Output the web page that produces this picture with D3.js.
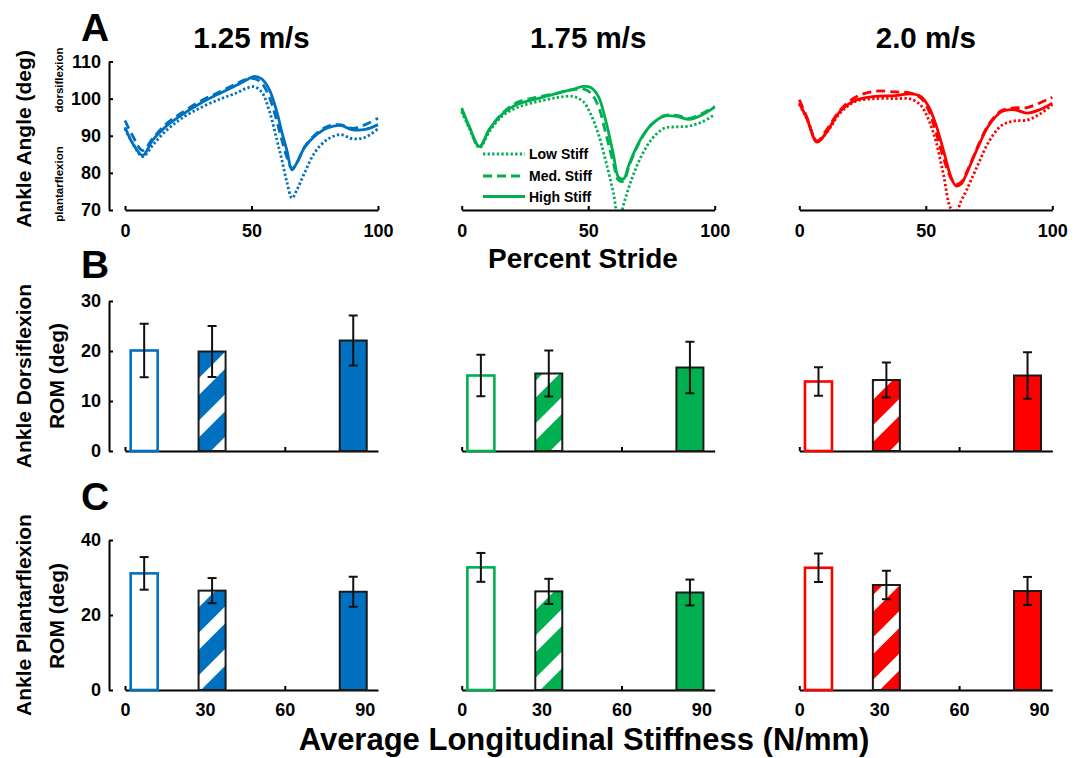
<!DOCTYPE html>
<html lang="en">
<head>
<meta charset="UTF-8">
<title>Ankle angle and ROM</title>
<script src="https://d3js.org/d3.v7.min.js"></script>
<style>
  body { margin: 0; background: #fff; }
  svg text { font-family: Arial, "Liberation Sans", sans-serif; font-weight: bold; fill: #000; }
  .domain { stroke: #000; stroke-width: 2; }
  .tick line { stroke: #000; stroke-width: 2; }
</style>
</head>
<body>
<div id="chart"></div>
<script>
// ---- data ----
var speeds = ["1.25 m/s", "1.75 m/s", "2.0 m/s"];
var stiffNames = ["Low Stiff", "Med. Stiff", "High Stiff"];

// percent stride sample points (shared by all curves)
var stridePct = [0, 3, 7, 11, 16, 22, 30, 38, 44, 48, 51, 54, 57, 60, 62, 64, 66, 68, 71, 75, 80, 85, 90, 95, 100];

// ankle angle (deg), 1.25 m/s
var low125  = [91.9, 88.0, 84.4, 87.5, 91.2, 94.5, 97.6, 100.0, 101.5, 102.8, 103.2, 101.8, 96.8, 89.0, 83.5, 77.5, 73.2, 75.5, 80.0, 85.5, 89.0, 90.3, 89.2, 89.6, 91.9];
var med125  = [94.1, 90.0, 86.0, 89.3, 93.0, 96.0, 99.4, 102.0, 104.0, 105.2, 105.4, 104.2, 100.5, 94.0, 88.8, 84.2, 81.2, 82.8, 87.0, 90.2, 92.5, 93.0, 92.0, 93.0, 94.7];
var high125 = [92.3, 88.0, 84.7, 88.9, 92.4, 95.4, 98.8, 101.6, 103.6, 105.0, 106.0, 105.3, 102.5, 96.5, 91.0, 86.0, 80.8, 82.8, 86.9, 89.9, 92.1, 92.8, 91.6, 91.7, 93.0];
// 1.75 m/s
var low175  = [96.5, 92.0, 86.8, 91.2, 95.3, 97.6, 99.2, 100.3, 100.6, 99.2, 95.8, 90.5, 83.0, 74.5, 67.0, 71.5, 76.0, 79.8, 84.5, 89.0, 92.0, 92.4, 92.6, 93.7, 95.7];
var med175  = [97.0, 92.3, 87.0, 91.8, 96.0, 99.0, 100.4, 101.5, 102.4, 102.6, 101.5, 98.0, 90.5, 82.5, 78.0, 77.8, 81.5, 85.0, 89.2, 93.0, 95.4, 95.5, 94.7, 96.0, 97.9];
var high175 = [97.5, 92.5, 87.1, 91.8, 95.8, 98.5, 100.0, 101.5, 102.5, 103.3, 103.0, 100.6, 93.9, 84.8, 78.8, 78.4, 82.0, 85.3, 89.4, 93.0, 95.3, 95.2, 94.4, 95.6, 97.7];
// 2.0 m/s
var low200  = [98.5, 94.5, 88.5, 91.0, 96.0, 99.2, 100.0, 100.0, 99.9, 98.2, 94.5, 88.5, 79.5, 70.3, 69.6, 72.5, 75.2, 78.2, 82.8, 88.5, 92.8, 94.0, 94.2, 95.8, 98.4];
var med200  = [99.7, 95.0, 88.6, 91.8, 96.8, 100.3, 102.0, 101.8, 101.5, 100.2, 97.0, 91.0, 84.0, 78.5, 77.0, 77.5, 80.0, 83.0, 87.8, 93.2, 96.8, 97.5, 97.6, 98.8, 100.4];
var high200 = [98.8, 94.7, 88.3, 91.2, 96.5, 99.5, 100.6, 100.8, 101.3, 100.6, 98.0, 93.0, 86.0, 78.8, 76.5, 77.0, 79.6, 82.8, 87.5, 92.9, 96.5, 97.0, 96.1, 97.0, 98.8];

// average longitudinal stiffness (N/mm) for low / med / high
var stiffness = [7.2, 32.7, 85.7];

// ROM means and error (deg), one row per speed, columns low/med/high
var dorsiMean = [[20.1, 19.9, 22.1], [15.1, 15.5, 16.7], [13.9, 14.2, 15.1]];
var dorsiErr  = [[5.35, 5.1, 5.0], [4.15, 4.6, 5.15], [2.85, 3.5, 4.65]];
var plantMean = [[31.1, 26.5, 26.2], [32.7, 26.3, 26.0], [32.6, 28.0, 26.4]];
var plantErr  = [[4.35, 3.35, 4.0], [3.85, 3.35, 3.45], [3.8, 3.8, 3.75]];

var angleTicks = [70, 80, 90, 100, 110];
var strideTicks = [0, 50, 100];
var stiffTicks = [0, 30, 60, 90];

// ---- layout ----
var colors = ["#0070C0", "#00B050", "#FF0000"];
var panelX = [125, 461.7, 799.3];
var panelW = 253;
var dashes = ["2.3,2.3", "9,5", null];

var angleSets = [[low125, med125, high125], [low175, med175, high175], [low200, med200, high200]];

var svg = d3.select("#chart").append("svg")
    .attr("width", 1084)
    .attr("height", 758);

var defs = svg.append("defs");

// striped patterns for the medium stiffness bars
colors.forEach(function(c, i) {
    var p = defs.append("pattern")
        .attr("id", "stripe" + i)
        .attr("patternUnits", "userSpaceOnUse")
        .attr("width", 30)
        .attr("height", 30)
        .attr("patternTransform", "rotate(45)");
    p.append("rect").attr("width", 30).attr("height", 30).attr("fill", "#fff");
    p.append("rect").attr("width", 18).attr("height", 30).attr("fill", c);
});

var yAngle = d3.scaleLinear().domain([70, 110]).range([210, 61.5]);
var yDorsi = d3.scaleLinear().domain([0, 30]).range([451, 301]);
var yPlant = d3.scaleLinear().domain([0, 40]).range([690, 540]);

// ---- row A: ankle angle curves ----
speeds.forEach(function(sp, i) {
    var x0 = panelX[i];
    var x = d3.scaleLinear().domain([0, 100]).range([x0, x0 + panelW]);

    defs.append("clipPath").attr("id", "clipA" + i)
        .append("rect")
        .attr("x", x0 - 10).attr("y", 40)
        .attr("width", panelW + 20).attr("height", 170);

    var line = d3.line()
        .x(function(d) { return x(d[0]); })
        .y(function(d) { return yAngle(d[1]); })
        .curve(d3.curveCatmullRom.alpha(0.5));

    var g = svg.append("g").attr("clip-path", "url(#clipA" + i + ")");
    angleSets[i].forEach(function(vals, k) {
        var pts = stridePct.map(function(p, j) { return [p, vals[j]]; });
        g.append("path")
            .datum(pts)
            .attr("d", line)
            .attr("fill", "none")
            .attr("stroke", colors[i])
            .attr("stroke-width", 2.8)
            .attr("stroke-dasharray", dashes[k]);
    });

    var ax = svg.append("g")
        .attr("transform", "translate(0,210)")
        .call(d3.axisBottom(x).tickValues(strideTicks).tickSizeInner(-4).tickSizeOuter(0).tickPadding(14));
    ax.selectAll("text").style("font-size", "18px");

    svg.append("text")
        .attr("x", x0 + panelW / 2)
        .attr("y", 48)
        .attr("text-anchor", "middle")
        .style("font-size", "29.5px")
        .text(sp);
});

var ayA = svg.append("g")
    .attr("transform", "translate(109,0)")
    .call(d3.axisLeft(yAngle).tickValues(angleTicks).tickSizeInner(-4).tickSizeOuter(0).tickPadding(8));
ayA.selectAll("text").style("font-size", "18px");

// legend in the middle panel
stiffNames.forEach(function(n, k) {
    var ly = [154, 176, 196.5][k];
    svg.append("line")
        .attr("x1", 483).attr("x2", 525)
        .attr("y1", ly).attr("y2", ly)
        .attr("stroke", colors[1])
        .attr("stroke-width", 2.8)
        .attr("stroke-dasharray", dashes[k]);
    svg.append("text")
        .attr("x", 529).attr("y", ly)
        .attr("dy", "0.36em")
        .style("font-size", "14px")
        .text(n);
});

// ---- rows B and C: ROM bars ----
function barRow(means, errs, y, ticks, showLabels) {
    speeds.forEach(function(sp, i) {
        var x0 = panelX[i];
        var x = d3.scaleLinear().domain([0, 95]).range([x0, x0 + panelW]);
        var bw = 27;

        var ax = svg.append("g")
            .attr("transform", "translate(0," + y(0) + ")")
            .call(d3.axisBottom(x).tickValues(stiffTicks).tickSizeInner(-4).tickSizeOuter(0).tickPadding(13));
        ax.selectAll("text").style("font-size", "18px");
        if (!showLabels) ax.selectAll("text").remove();

        var rows = stiffness.map(function(s, k) {
            return { s: s, m: means[i][k], e: errs[i][k], k: k };
        });

        svg.selectAll(null)
            .data(rows)
            .enter()
            .append("rect")
            .attr("x", function(d) { return x(d.s) - bw / 2; })
            .attr("y", function(d) { return y(d.m); })
            .attr("width", bw)
            .attr("height", function(d) { return y(0) - y(d.m); })
            .attr("fill", function(d) {
                if (d.k === 0) return "#fff";
                if (d.k === 1) return "url(#stripe" + i + ")";
                return colors[i];
            })
            .attr("stroke", function(d) { return d.k === 0 ? colors[i] : "#1a1a1a"; })
            .attr("stroke-width", function(d) { return d.k === 0 ? 2.6 : 2; });

        var eb = svg.selectAll(null)
            .data(rows)
            .enter()
            .append("g")
            .attr("stroke", "#111")
            .attr("stroke-width", 2);
        eb.append("line")
            .attr("x1", function(d) { return x(d.s); })
            .attr("x2", function(d) { return x(d.s); })
            .attr("y1", function(d) { return y(d.m - d.e); })
            .attr("y2", function(d) { return y(d.m + d.e); });
        [-1, 1].forEach(function(sg) {
            eb.append("line")
                .attr("x1", function(d) { return x(d.s) - 4.5; })
                .attr("x2", function(d) { return x(d.s) + 4.5; })
                .attr("y1", function(d) { return y(d.m + sg * d.e); })
                .attr("y2", function(d) { return y(d.m + sg * d.e); });
        });
    });

    var ay = svg.append("g")
        .attr("transform", "translate(109,0)")
        .call(d3.axisLeft(y).tickValues(ticks).tickSizeInner(-4).tickSizeOuter(0).tickPadding(8));
    ay.selectAll("text").style("font-size", "18px");
}

barRow(dorsiMean, dorsiErr, yDorsi, [0, 10, 20, 30], false);
barRow(plantMean, plantErr, yPlant, [0, 20, 40], true);

// ---- labels ----
function vText(x, y, size, txt) {
    svg.append("text")
        .attr("transform", "translate(" + x + "," + y + ") rotate(-90)")
        .attr("text-anchor", "middle")
        .attr("dy", "0.35em")
        .style("font-size", size + "px")
        .text(txt);
}

vText(24, 139, 21, "Ankle Angle (deg)");
vText(59, 80, 11.5, "dorsiflexion");
vText(59, 184, 11.5, "plantarflexion");
vText(24, 376, 21, "Ankle Dorsiflexion");
vText(57, 376, 21, "ROM (deg)");
vText(24, 615, 21, "Ankle Plantarflexion");
vText(57, 616, 21, "ROM (deg)");

[["A", 41], ["B", 278], ["C", 510]].forEach(function(p) {
    svg.append("text")
        .attr("x", 95)
        .attr("y", p[1])
        .attr("text-anchor", "middle")
        .style("font-size", "39px")
        .text(p[0]);
});

svg.append("text")
    .attr("x", 583).attr("y", 268)
    .attr("text-anchor", "middle")
    .style("font-size", "28px")
    .text("Percent Stride");

svg.append("text")
    .attr("x", 584).attr("y", 750)
    .attr("text-anchor", "middle")
    .style("font-size", "31px")
    .text("Average Longitudinal Stiffness (N/mm)");
</script>
</body>
</html>
